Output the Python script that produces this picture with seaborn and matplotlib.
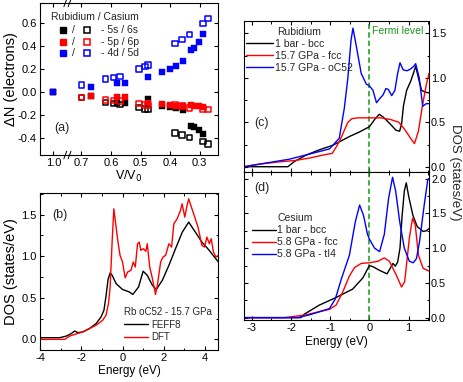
import numpy as np
import pandas as pd
import matplotlib
matplotlib.use("Agg")
import matplotlib.pyplot as plt
import seaborn as sns

# ---------------- data: panel (a) ----------------
v_rb = [1.0, 0.668, 0.579, 0.551, 0.475, 0.426, 0.399, 0.379, 0.358, 0.328, 0.320, 0.302, 0.289]
rb_5s = [0.0, -0.03, -0.09, -0.09, -0.06, -0.115, -0.13, -0.14, -0.155, -0.29, -0.30, -0.33, -0.365]
rb_5p = [0.0, -0.03, -0.045, -0.04, -0.09, -0.10, -0.11, -0.115, -0.12, -0.11, -0.115, -0.12, -0.125]
rb_4d = [0.0, 0.043, 0.078, 0.083, 0.136, 0.174, 0.203, 0.231, 0.272, 0.368, 0.383, 0.44, 0.504]

v_cs = [0.700, 0.618, 0.591, 0.570, 0.505, 0.485, 0.475, 0.384, 0.360, 0.334, 0.289, 0.272]
cs_6s = [-0.045, -0.09, -0.095, -0.105, -0.13, -0.145, -0.15, -0.355, -0.37, -0.395, -0.43, -0.45]
cs_6p = [-0.043, -0.067, -0.07, -0.075, -0.10, -0.11, -0.115, -0.11, -0.12, -0.135, -0.145, -0.15]
cs_5d = [0.063, 0.116, 0.13, 0.136, 0.203, 0.223, 0.237, 0.426, 0.461, 0.504, 0.600, 0.643]

xticks_a = [1.0, 0.7, 0.6, 0.5, 0.4, 0.3]
orbital_labels = ["- 5s / 6s", "- 5p / 6p", "- 4d / 5d"]

# ---------------- data: panel (b) ----------------
feff_e = [-4.0, -3.04, -2.72, -2.48, -2.32, -2.16, -1.92, -1.6, -1.28, -1.04, -0.9, -0.8,
          -0.7, -0.6, -0.5, -0.31, 0.0, 0.33, 0.5, 0.78, 1.0, 1.2, 1.45, 1.64, 1.93, 2.25,
          2.57, 2.9, 3.21, 3.53, 3.85, 4.17, 4.65]
feff_dos = [0.02, 0.02, 0.04, 0.07, 0.10, 0.08, 0.09, 0.13, 0.19, 0.27, 0.35, 0.52,
            0.72, 0.80, 0.77, 0.67, 0.60, 0.57, 0.54, 0.63, 0.82, 0.77, 0.65, 0.60, 0.71, 0.89,
            1.09, 1.29, 1.41, 1.29, 1.17, 1.08, 0.93]
dft_e = [-4.0, -2.8, -2.56, -1.92, -1.28, -0.96, -0.8, -0.68, -0.6, -0.5, -0.42, -0.35, -0.23,
         -0.12, 0.0, 0.13, 0.25, 0.41, 0.52, 0.62, 0.73, 0.81, 0.89, 1.0, 1.13, 1.2, 1.32, 1.45,
         1.6, 1.69, 1.85, 1.96, 2.09, 2.25, 2.38, 2.49, 2.65, 2.81, 2.89, 3.02, 3.13, 3.21, 3.34,
         3.45, 3.66, 3.85, 3.98, 4.09, 4.21, 4.3, 4.41, 4.53, 4.65]
dft_dos = [0.0, 0.0, 0.04, 0.09, 0.17, 0.23, 0.29, 0.43, 0.63, 1.19, 1.57, 1.43, 1.19,
           1.01, 0.93, 0.74, 0.81, 0.83, 0.93, 0.87, 1.15, 1.17, 1.07, 1.09, 1.06, 1.15, 0.87, 0.73,
           0.54, 0.65, 0.93, 0.99, 1.01, 1.15, 1.11, 1.39, 1.45, 1.55, 1.63, 1.47, 1.61, 1.69, 1.59,
           1.51, 1.35, 1.13, 1.11, 1.23, 1.15, 1.21, 1.05, 0.99, 1.01]

# ---------------- data: panel (c) Rubidium ----------------
rb_bcc_e = [-3.2, -2.08, -1.91, -1.62, -1.28, -0.94, -0.77, -0.51, -0.26, 0.0, 0.13, 0.25,
            0.35, 0.51, 0.68, 0.77, 0.82, 0.87, 0.95, 1.06, 1.18, 1.25, 1.33, 1.42, 1.52]
rb_bcc = [0.0, 0.0, 0.06, 0.13, 0.19, 0.24, 0.28, 0.34, 0.39, 0.45, 0.53, 0.59,
          0.56, 0.49, 0.41, 0.40, 0.48, 0.69, 0.86, 0.97, 1.13, 1.0, 0.86, 0.84, 0.83]
rb_fcc_e = [-3.2, -2.8, -2.3, -1.9, -1.5, -1.2, -0.95, -0.85, -0.75, -0.65, -0.55, -0.45,
            -0.3, 0.0, 0.3, 0.55, 0.75, 0.9, 1.05, 1.15, 1.25, 1.35, 1.45, 1.52]
rb_fcc = [0.0, 0.03, 0.055, 0.07, 0.10, 0.13, 0.15, 0.22, 0.30, 0.40, 0.50, 0.54,
          0.55, 0.55, 0.55, 0.53, 0.50, 0.42, 0.32, 0.26, 0.40, 0.68, 0.92, 1.05]
rb_oc52_e = [-3.2, -2.04, -1.02, -0.77, -0.64, -0.55, -0.47, -0.42, -0.34, -0.21, -0.08, 0.0,
             0.09, 0.18, 0.27, 0.35, 0.42, 0.48, 0.57, 0.65, 0.72, 0.78, 0.86, 0.96, 1.05, 1.13,
             1.18, 1.27, 1.36, 1.45, 1.52]
rb_oc52 = [0.0, 0.085, 0.20, 0.32, 0.66, 1.0, 1.42, 1.56, 1.37, 1.05, 0.93, 0.91,
           0.86, 0.72, 0.77, 0.81, 0.88, 0.87, 0.80, 0.86, 1.05, 1.17, 1.09, 1.08, 1.10, 1.13,
           1.16, 1.0, 0.68, 0.71, 0.71]

# ---------------- data: panel (d) Cesium ----------------
cs_bcc_e = [-3.2, -1.75, -1.66, -1.28, -0.85, -0.43, -0.17, 0.0, 0.1, 0.26, 0.45, 0.6, 0.66,
            0.72, 0.78, 0.83, 0.89, 0.94, 1.0, 1.11, 1.22, 1.37, 1.45, 1.52]
cs_bcc = [0.0, 0.0, 0.05, 0.18, 0.29, 0.41, 0.57, 0.75, 0.73, 0.68, 0.63, 0.78, 0.74,
          0.80, 1.0, 1.44, 1.82, 1.94, 1.75, 1.47, 1.31, 1.24, 1.25, 1.28]
cs_fcc_e = [-3.2, -2.17, -1.62, -1.02, -0.85, -0.68, -0.51, -0.38, -0.21, 0.0, 0.21, 0.38,
            0.51, 0.68, 0.82, 0.9, 1.02, 1.1, 1.17, 1.25, 1.37, 1.52]
cs_fcc = [0.0, 0.0, 0.04, 0.12, 0.18, 0.37, 0.6, 0.72, 0.78, 0.79, 0.81, 0.86,
          0.81, 0.62, 0.44, 0.52, 1.15, 1.43, 1.33, 0.9, 0.71, 0.67]
cs_ti4_e = [-3.2, -1.83, -1.53, -1.02, -0.87, -0.72, -0.51, -0.36, -0.25, -0.15, -0.05, 0.0,
            0.13, 0.26, 0.38, 0.49, 0.59, 0.67, 0.77, 0.89, 1.02, 1.12, 1.2, 1.28, 1.4, 1.49, 1.52]
cs_ti4 = [0.0, 0.0, 0.04, 0.13, 0.27, 0.55, 0.9, 1.38, 1.62, 1.47, 1.2, 1.13,
          1.0, 0.95, 1.2, 1.72, 2.02, 1.82, 1.39, 1.0, 0.81, 0.79, 0.85, 1.10, 1.63, 1.99, 2.0]

# ---------------- style ----------------
sns.set_theme(style="ticks")
plt.rcParams['font.family'] = ['Liberation Sans', 'DejaVu Sans']
plt.rcParams.update({
    'xtick.direction': 'in', 'ytick.direction': 'in',
    'xtick.top': True, 'ytick.right': True,
    'axes.linewidth': 0.8, 'axes.edgecolor': 'black',
    'xtick.major.size': 3, 'ytick.major.size': 3,
    'xtick.minor.size': 1.8, 'ytick.minor.size': 1.8,
    'xtick.major.width': 0.8, 'ytick.major.width': 0.8,
    'xtick.minor.width': 0.7, 'ytick.minor.width': 0.7,
    'xtick.major.pad': 2.5, 'ytick.major.pad': 2.5,
    'xtick.labelsize': 8, 'ytick.labelsize': 8, 'axes.labelsize': 9,
    'xtick.color': 'black', 'ytick.color': 'black',
    'axes.unicode_minus': False, 'axes.labelcolor': 'black',
})

W, H = 463, 382
fig = plt.figure(figsize=(W / 100, H / 100), dpi=100)


def box(l, r, t, b):
    return [l / W, 1 - b / H, (r - l) / W, (b - t) / H]


axa = fig.add_axes(box(40, 218, 3, 155))
axb = fig.add_axes(box(40, 218, 193, 350))
axc = fig.add_axes(box(244, 429, 21, 171.7))
axd = fig.add_axes(box(244, 429, 171.7, 320))

# ---------------- panel (a) broken V/V0 axis ----------------
def fwd(x):
    x = np.asarray(x, dtype=float)
    return np.where(x <= 0.72, x,
                    np.where(x <= 0.98, 0.72 + (x - 0.72) * (0.055 / 0.26), x - 0.205))


def inv(t):
    t = np.asarray(t, dtype=float)
    return np.where(t <= 0.72, t,
                    np.where(t <= 0.775, 0.72 + (t - 0.72) * (0.26 / 0.055), t + 0.205))


axa.set_xscale('function', functions=(fwd, inv))
blue, red = '#0000ff', '#ff0000'
for vals, c in [(rb_5s, 'black'), (rb_5p, red), (rb_4d, blue)]:
    sns.scatterplot(x=v_rb, y=vals, ax=axa, marker='s', s=20, color=c, edgecolor=c,
                    linewidth=0.3, zorder=3)
for vals, c in [(cs_6s, 'black'), (cs_6p, red), (cs_5d, blue)]:
    sns.scatterplot(x=v_cs, y=vals, ax=axa, marker='s', s=15, facecolors='none',
                    edgecolor=c, linewidth=1.1, zorder=3)
axa.set_xlim(1.045, 0.238)
axa.set_ylim(-0.545, 0.776)
axa.set_xticks(xticks_a)
axa.set_xticklabels([f"{v:.1f}" for v in xticks_a])
axa.xaxis.set_minor_locator(matplotlib.ticker.NullLocator())
axa.set_yticks([-0.4, -0.2, 0.0, 0.2, 0.4, 0.6])
axa.set_yticklabels([f"{v:.1f}" for v in [-0.4, -0.2, 0.0, 0.2, 0.4, 0.6]])
axa.set_xlabel("V/V$_0$", fontsize=9)
axa.set_ylabel("ΔN (electrons)", fontsize=10.5)
axa.xaxis.set_label_coords(0.5, -0.092)
axa.yaxis.set_label_coords(-0.125, 0.5)
# axis break marks
for yb in (0.0, 1.0):
    for dx in (-0.012, 0.012):
        axa.plot([0.154 + dx - 0.008, 0.154 + dx + 0.008], [yb - 0.025, yb + 0.025],
                 transform=axa.transAxes, color='black', lw=0.7, clip_on=False)
axa.text(0.122, 0.176, "(a)", transform=axa.transAxes, fontsize=9, ha='center', va='center')
# manual legend
axa.text(0.06, 0.91, "Rubidium / Casium", transform=axa.transAxes, fontsize=7.5,
         ha='left', va='center')
for yy, c, lab in zip([0.822, 0.745, 0.673], ['black', red, blue], orbital_labels):
    axa.plot([0.131], [yy], transform=axa.transAxes, marker='s', ms=5, color=c, mec=c, ls='none')
    axa.text(0.187, yy, "/", transform=axa.transAxes, fontsize=7.5, ha='center', va='center')
    axa.plot([0.262], [yy], transform=axa.transAxes, marker='s', ms=4.5, mfc='none', mec=c,
             mew=1.1, ls='none')
    axa.text(0.341, yy, lab, transform=axa.transAxes, fontsize=7.5, ha='left', va='center')

# ---------------- panel (b) ----------------
sns.lineplot(x=feff_e, y=feff_dos, ax=axb, color='black', lw=1.0, label='FEFF8')
sns.lineplot(x=dft_e, y=dft_dos, ax=axb, color=red, lw=1.0, label='DFT')
axb.set_xlim(-4, 4.63)
axb.set_ylim(-0.128, 1.76)
axb.set_xticks([-4, -2, 0, 2, 4])
axb.xaxis.set_minor_locator(matplotlib.ticker.MultipleLocator(1))
axb.set_yticks([0.0, 0.5, 1.0, 1.5])
axb.set_yticklabels(["0.0", "0.5", "1.0", "1.5"])
axb.yaxis.set_minor_locator(matplotlib.ticker.MultipleLocator(0.25))
axb.set_xlabel("Energy (eV)", fontsize=8.5)
axb.set_ylabel("DOS (states/eV)", fontsize=10.5)
axb.xaxis.set_label_coords(0.5, -0.095)
axb.yaxis.set_label_coords(-0.125, 0.5)
axb.text(0.112, 0.86, "(b)", transform=axb.transAxes, fontsize=9, ha='center', va='center')
legb = axb.legend(title="Rb oC52 - 15.7 GPa", loc='upper left', bbox_to_anchor=(0.44, 0.31),
                  frameon=False, fontsize=7, title_fontsize=7, handlelength=2.5,
                  handletextpad=0.3, labelspacing=0.25, borderpad=0.1)
legb._legend_box.align = "left"

# ---------------- panels (c), (d) ----------------
for e, d, c, lab in [(rb_bcc_e, rb_bcc, 'black', '1 bar - bcc'),
                     (rb_fcc_e, rb_fcc, red, '15.7 GPa - fcc'),
                     (rb_oc52_e, rb_oc52, blue, '15.7 GPa - oC52')]:
    sns.lineplot(x=e, y=d, ax=axc, color=c, lw=1.0, label=lab)
for e, d, c, lab in [(cs_bcc_e, cs_bcc, 'black', '1 bar - bcc'),
                     (cs_fcc_e, cs_fcc, red, '5.8 GPa - fcc'),
                     (cs_ti4_e, cs_ti4, blue, '5.8 GPa - tI4')]:
    sns.lineplot(x=e, y=d, ax=axd, color=c, lw=1.0, label=lab)

green = '#129a12'
for ax in (axc, axd):
    ax.axvline(0, color=green, ls=(0, (3.5, 2)), lw=1.1, zorder=1)
    ax.set_xlim(-3.2, 1.52)
    ax.set_xticks([-3, -2, -1, 0, 1])
    ax.xaxis.set_minor_locator(matplotlib.ticker.MultipleLocator(0.5))
    ax.yaxis.set_minor_locator(matplotlib.ticker.MultipleLocator(0.25))
    ax.tick_params(axis='y', which='both', left=True, right=True, labelleft=False,
                   labelright=True)
    ax.tick_params(axis='y', which='major', pad=1.5, labelsize=7.8)
    ax.set_ylabel("")
axc.set_ylim(-0.056, 1.64)
axc.set_yticks([0.0, 0.5, 1.0, 1.5])
axc.set_yticklabels(["0.0", "0.5", "1.0", "1.5"])
axc.tick_params(axis='x', labelbottom=False)
axc.set_xlabel("")
axd.set_ylim(-0.034, 2.1)
axd.set_yticks([0.0, 0.5, 1.0, 1.5, 2.0])
axd.set_yticklabels(["0.0", "0.5", "1.0", "1.5", "2.0"])
axd.set_xlabel("Energy (eV)", fontsize=8.5)
axd.xaxis.set_label_coords(0.5, -0.105)
axc.text(0.096, 0.321, "(c)", transform=axc.transAxes, fontsize=9, ha='center', va='center')
axd.text(0.099, 0.888, "(d)", transform=axd.transAxes, fontsize=9, ha='center', va='center')
axc.text(0.06, 0.934, "Fermi level", transform=axc.get_xaxis_transform(), color=green,
         fontsize=7.5, ha='left', va='center')

legc = axc.legend(title="Rubidium", loc='upper left', bbox_to_anchor=(0.0, 0.975),
                  frameon=False, fontsize=7.5, title_fontsize=7.5, handlelength=2.6,
                  handletextpad=0.15, labelspacing=0.2, borderpad=0.1, borderaxespad=0.1)
legd = axd.legend(title="Cesium", loc='upper left', bbox_to_anchor=(0.03, 0.735),
                  frameon=False, fontsize=7.5, title_fontsize=7.5, handlelength=2.3,
                  handletextpad=0.15, labelspacing=0.2, borderpad=0.1, borderaxespad=0.1)

fig.text(455 / W, 1 - 172.5 / H, "DOS (states/eV)", rotation=270, ha='center', va='center',
         fontsize=9.5)

fig.savefig("out.png", dpi=100)
